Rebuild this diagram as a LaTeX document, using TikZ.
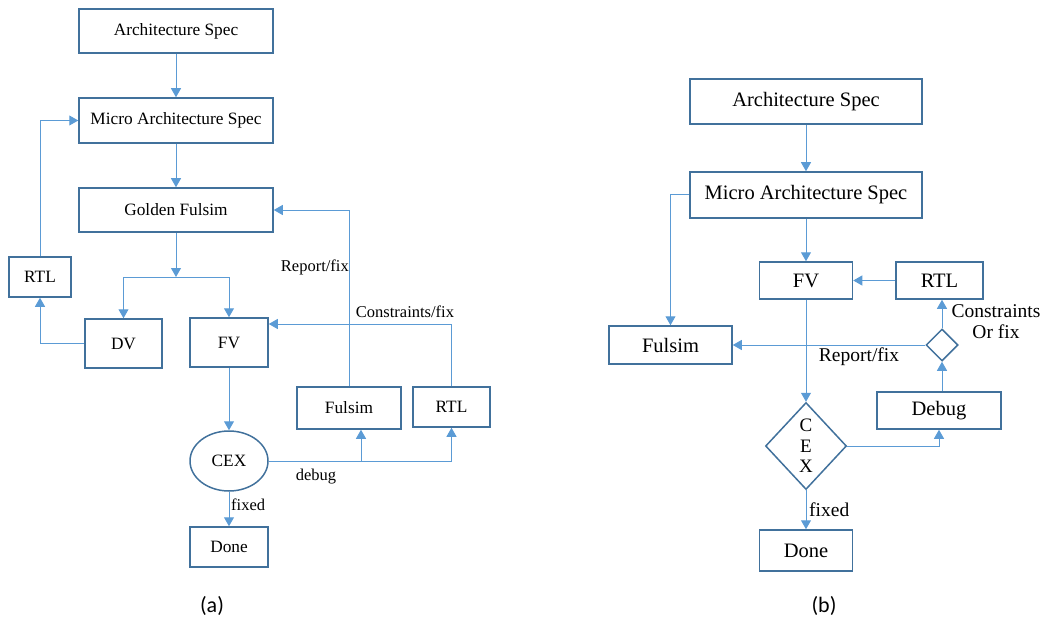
\documentclass[tikz,border=0pt]{standalone}
\usepackage{fontspec}
\setmainfont{Liberation Serif}
\newfontfamily\capfont{Carlito}
\usepackage{xcolor}
\usetikzlibrary{shapes.geometric,arrows.meta}

\definecolor{boxblue}{HTML}{41719C}
\definecolor{lineblue}{HTML}{5B9BD5}

\begin{document}
\begin{tikzpicture}[x=1pt,y=-1pt,
        blk/.style={draw=boxblue,line width=1.5pt,inner sep=0pt,align=center},
        conn/.style={draw=lineblue,line width=1pt},
        arr/.style={conn,-{Triangle[width=10pt,length=9pt]}},
        fa/.style={font=\fontsize{17.3}{20}\selectfont},
        fb/.style={font=\fontsize{20.5}{24}\selectfont},
        laba/.style={inner sep=0pt,font=\fontsize{16.5}{20}\selectfont},
        labb/.style={inner sep=0pt,align=center,font=\fontsize{19.5}{21}\selectfont},
        capt/.style={font=\capfont\fontsize{22}{26}\selectfont}]
        \useasboundingbox (0,0) rectangle (1042,623);

        % (a) with golden fulsim
        \node[blk,fa,minimum width=194pt,minimum height=44pt] (archA) at (176,31) {Architecture Spec};
        \node[blk,fa,minimum width=194pt,minimum height=45pt] (microA) at (176,120.5) {Micro Architecture Spec};
        \node[blk,fa,minimum width=194pt,minimum height=44pt] (goldA) at (176,210) {Golden Fulsim};
        \node[blk,fa,minimum width=62pt,minimum height=40pt] (rtlA) at (40,277) {RTL};
        \node[blk,fa,minimum width=77pt,minimum height=49pt] (dvA) at (123.5,343.5) {DV};
        \node[blk,fa,minimum width=78pt,minimum height=49pt] (fvA) at (229,342.5) {FV};
        \node[blk,fa,ellipse,minimum width=78pt,minimum height=60pt] (cexA) at (229,461) {CEX};
        \node[blk,fa,minimum width=78pt,minimum height=40pt] (doneA) at (229,547) {Done};
        \node[blk,fa,minimum width=104pt,minimum height=42pt] (fulA) at (349,408) {Fulsim};
        \node[blk,fa,minimum width=77pt,minimum height=40pt] (rtlfixA) at (451.5,407) {RTL};
        \coordinate (splitA) at (176,277);

        \draw[arr] (archA) -- (microA);
        \draw[arr] (microA) -- (goldA);
        \draw[arr] (goldA) -- (splitA);
        \draw[arr] (splitA) -| (dvA.north);
        \draw[arr] (splitA) -| (fvA.north);
        \draw[arr] (dvA.west) -| (rtlA.south);
        \draw[arr] (rtlA.north) |- (microA.west);
        \draw[arr] (fvA) -- (cexA);
        \draw[arr] (cexA) -- (doneA);
        \draw[arr] (cexA.east) -| (rtlfixA.south);
        \draw[arr] ([xshift=12pt]fulA.south |- cexA.east) -- ([xshift=12pt]fulA.south);
        \draw[arr] (fulA.north) |- (goldA.east);
        \draw[arr] (rtlfixA.north) |- ([yshift=18.5pt]fvA.east);
        \node[laba,anchor=west] (fixedA) at (231,505) {fixed};
        \node[laba] (debugA) at (316,477) {debug};
        \node[laba,anchor=east] (reportA) at (349,267) {Report/fix};
        \node[laba] (consA) at (405,312) {Constraints/fix};
        \node[capt] (capA) at (212,606) {(a)};

        % (b) without golden fulsim
        \node[blk,fb,minimum width=232pt,minimum height=45pt] (archB) at (806,101.5) {Architecture Spec};
        \node[blk,fb,minimum width=232pt,minimum height=46pt] (microB) at (806,195) {Micro Architecture Spec};
        \node[blk,fb,minimum width=93pt,minimum height=37pt] (fvB) at (806,280.5) {FV};
        \node[blk,fb,minimum width=87pt,minimum height=37pt] (rtlB) at (939.5,280.5) {RTL};
        \node[blk,fb,minimum width=123pt,minimum height=38pt] (fulB) at (670.5,345) {Fulsim};
        \node[blk,diamond,minimum width=32pt,minimum height=32pt] (choiceB) at (942,345) {};
        \node[blk,diamond,minimum width=81pt,minimum height=87pt,font=\fontsize{19}{20.5}\selectfont] (cexB) at (806,446) {C\\E\\X};
        \node[blk,fb,minimum width=124pt,minimum height=37pt] (debugB) at (939,410.5) {Debug};
        \node[blk,fb,minimum width=93pt,minimum height=41pt] (doneB) at (806,550.5) {Done};

        \draw[arr] (archB) -- (microB);
        \draw[arr] (microB) -- (fvB);
        \draw[arr] (microB.west) -| (fulB.north);
        \draw[arr] (rtlB) -- (fvB);
        \draw[arr] (choiceB.north) -- (choiceB.north |- rtlB.south);
        \draw[arr] (choiceB.west) -- (fulB.east);
        \draw[arr] (fvB) -- (cexB);
        \draw[arr] (cexB.east) -| (debugB.south);
        \draw[arr] (debugB.north -| choiceB.south) -- (choiceB.south);
        \draw[arr] (cexB) -- (doneB);
        \node[labb,anchor=west] (fixedB) at (809,510) {fixed};
        \node[labb] (reportB) at (859,357) {Report/fix};
        \node[labb] (consB) at (996,322) {Constraints\\Or fix};
        \node[capt] (capB) at (824,606) {(b)};
    \end{tikzpicture}
\end{document}
